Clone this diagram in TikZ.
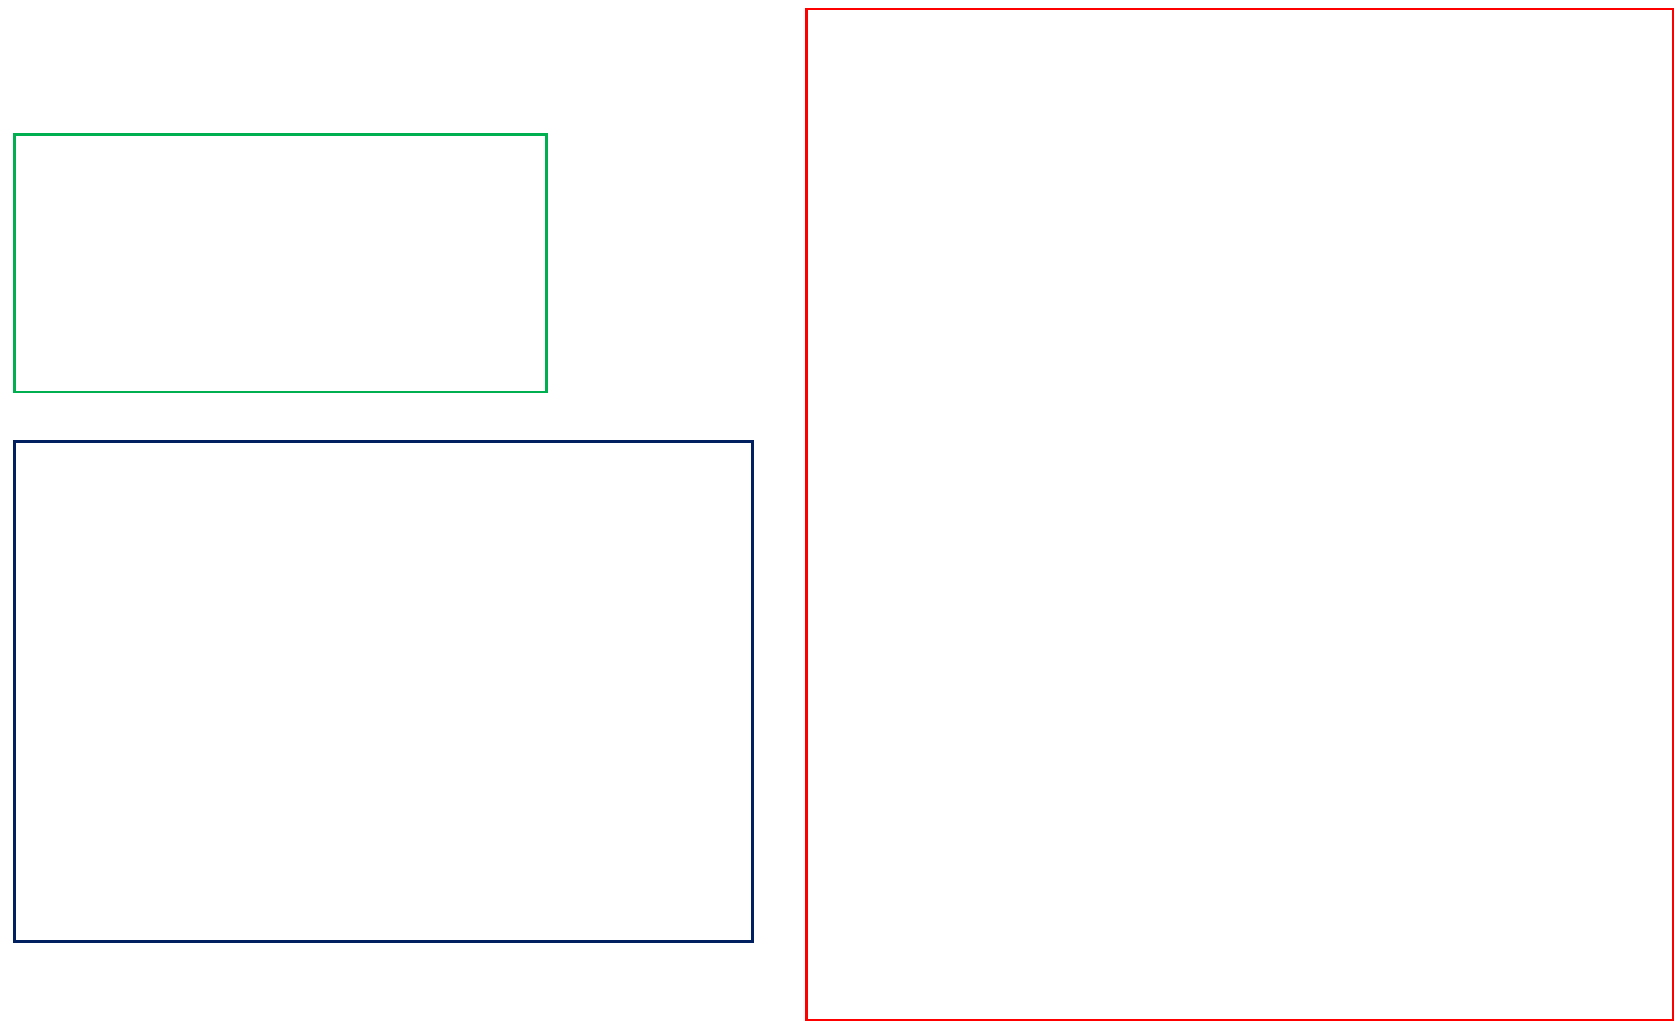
\documentclass[tikz,border=0pt]{standalone}
\usepackage{tikz}
\usepackage{xcolor}
\definecolor{boxgreen}{HTML}{00B050}
\definecolor{boxnavy}{HTML}{002060}
\definecolor{boxred}{HTML}{FF0000}

\begin{document}
\begin{tikzpicture}[x=0.02cm,y=-0.02cm,frame/.style={line width=1.2pt}]
		\useasboundingbox (0,0) rectangle (1675,1022);
		\draw[frame,boxgreen] (14.5,134.5) rectangle (546.5,392);
		\draw[frame,boxnavy] (14.5,441.5) rectangle (752.5,941.5);
		\draw[frame,boxred] (806.5,9) rectangle (1673,1020);
	\end{tikzpicture}
\end{document}
